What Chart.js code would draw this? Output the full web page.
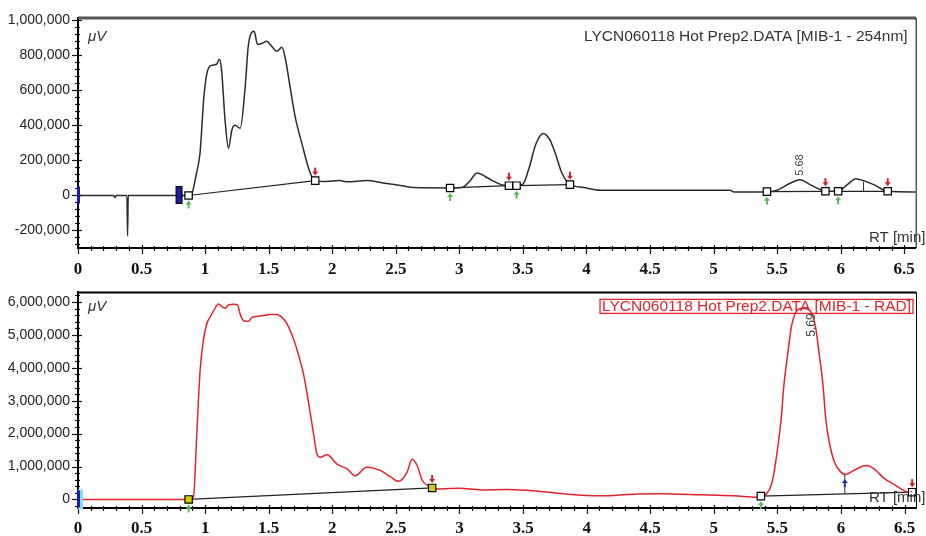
<!DOCTYPE html>
<html><head><meta charset="utf-8">
<script src="https://cdn.jsdelivr.net/npm/chart.js@4.4.1/dist/chart.umd.min.js"></script>
<style>
html,body{margin:0;padding:0;background:#fff;width:926px;height:536px;overflow:hidden}
canvas{position:absolute;left:0}
#c1{top:0}
#c2{top:276px}
</style></head><body>
<canvas id="c1" width="926" height="280"></canvas>
<canvas id="c2" width="926" height="260"></canvas>
<script>
// ---------- data ----------
const xTicksStep = 0.5;
const uvTitle = "LYCN060118 Hot Prep2.DATA [MIB-1 - 254nm]";
const radTitle = "LYCN060118 Hot Prep2.DATA [MIB-1 - RAD]";
const unitLabel = "\u03BCV";
const axisTitle = "RT [min]";
const uvYTicks = [-200000, 0, 200000, 400000, 600000, 800000, 1000000];
const radYTicks = [0, 1000000, 2000000, 3000000, 4000000, 5000000, 6000000];

const uvTime = [0,0.28,0.29,0.30,0.385,0.39,0.395,0.87,0.895,0.93,0.96,0.99,1.013,1.04,1.09,1.113,1.13,1.157,1.184,1.21,1.236,1.276,1.315,1.341,1.386,1.412,1.45,1.486,1.512,1.565,1.604,1.63,1.669,1.709,1.761,1.827,1.866,1.95,2.06,2.12,2.27,2.40,2.55,2.64,2.93,3.02,3.08,3.14,3.20,3.26,3.33,3.39,3.45,3.50,3.55,3.60,3.66,3.71,3.76,3.80,3.85,3.87,3.98,4.11,5.13,5.16,5.42,5.50,5.61,5.68,5.76,5.84,5.88,5.98,6.05,6.12,6.19,6.26,6.37,6.59];
const uvSignal = [0,0,-12000,0,0,-230000,0,0,10000,120000,243000,560000,693000,740000,750000,778000,712000,430000,270000,373000,401000,384000,617000,863000,938000,863000,870000,881000,863000,825000,847000,787000,617000,448000,298000,128000,85000,80000,85000,78000,86000,72000,55000,45000,43000,45000,80000,128000,110000,85000,62000,56000,56000,65000,160000,290000,354000,320000,230000,140000,75000,62000,45000,30000,30000,20000,22000,30000,73000,90000,62000,34000,24000,24000,60000,96000,82000,62000,24000,20000];

const uvStartT = [0.87,2.927,3.45,5.42,5.98];
const uvStartY = [0,43000,56000,22000,24000];
const uvEndT = [1.866,3.39,3.87,5.88,6.37];
const uvEndY = [85000,56000,62000,24000,24000];
const uvEventT = [0,0.795];
const uvPeakT = 5.68, uvPeakY = 90000, uvPeakLabel = "5.68";
const uvDropT = 6.18, uvDropLow = 24000, uvDropHigh = 80000;

const radTime = [0,0.87,0.908,0.934,0.96,0.987,1.013,1.04,1.065,1.105,1.131,1.157,1.184,1.223,1.254,1.276,1.302,1.341,1.368,1.433,1.512,1.565,1.604,1.643,1.696,1.735,1.774,1.813,1.853,1.879,1.906,1.958,2.037,2.116,2.18,2.27,2.378,2.457,2.52,2.588,2.627,2.667,2.706,2.76,2.785,2.85,3.0,3.17,3.38,3.64,3.85,4.11,4.37,4.58,4.9,5.16,5.34,5.41,5.46,5.50,5.53,5.55,5.58,5.61,5.65,5.70,5.76,5.80,5.83,5.86,5.88,5.91,5.95,6.0,6.04,6.10,6.20,6.26,6.34,6.42,6.50,6.55];
const radSignal = [0,0,66000,1980000,3900000,4860000,5340000,5550000,5720000,5940000,5860000,5810000,5910000,5930000,5910000,5620000,5430000,5410000,5530000,5570000,5620000,5620000,5530000,5340000,4860000,4380000,3800000,2940000,1980000,1380000,1280000,1360000,1070000,930000,720000,980000,880000,690000,550000,830000,1220000,1030000,590000,400000,350000,320000,340000,290000,300000,240000,160000,110000,160000,170000,140000,110000,70000,160000,550000,1500000,2460000,3420000,4380000,5240000,5720000,5810000,5720000,5240000,4380000,3420000,2460000,1700000,1120000,830000,760000,880000,1030000,930000,640000,450000,260000,190000];

const radStartT = [0.87,5.37];
const radStartY = [0,100000];
const radEndT = [2.785,6.56];
const radEndY = [350000,220000];
const radEventT = [0];
const radPeakT = 5.69, radPeakLabel = "5.69";
const radDropT = 6.03, radDropLow = 170000, radDropHigh = 740000;

// ---------- helpers ----------
function pts(xs, ys){ return xs.map((x,i)=>({x:x, y:ys[i]})); }
function segs(sx, sy, ex, ey){
  const o2 = [];
  sx.forEach((x,i)=>{ o2.push({x:x,y:sy[i]}); o2.push({x:ex[i],y:ey[i]}); o2.push({x:ex[i]+0.001,y:null}); });
  return o2;
}
function downArrow(ctx, x, tipY, color){
  ctx.fillStyle = color;
  ctx.fillRect(x-1, tipY-8, 2, 5);
  ctx.beginPath(); ctx.moveTo(x-3, tipY-4); ctx.lineTo(x+3, tipY-4); ctx.lineTo(x, tipY); ctx.closePath(); ctx.fill();
}
function upArrow(ctx, x, tipY, color){
  ctx.fillStyle = color;
  ctx.beginPath(); ctx.moveTo(x-3, tipY+4); ctx.lineTo(x+3, tipY+4); ctx.lineTo(x, tipY); ctx.closePath(); ctx.fill();
  ctx.fillRect(x-1, tipY+3, 2, 5);
}

const decor = {
  id: 'decor',
  afterDraw(chart, args, o){
    const ctx = chart.ctx, a = chart.chartArea, xs = chart.scales.x, ys = chart.scales.y;
    ctx.save();
    // frame
    ctx.strokeStyle = o.topColor; ctx.lineWidth = o.topWidth;
    ctx.beginPath(); ctx.moveTo(a.left, a.top); ctx.lineTo(a.right+0.5, a.top); ctx.stroke();
    ctx.strokeStyle = '#000'; ctx.lineWidth = 1;
    ctx.beginPath(); ctx.moveTo(a.right+0.5, a.top); ctx.lineTo(a.right+0.5, a.bottom); ctx.stroke();
    // minor & major ticks
    ctx.strokeStyle = '#111'; ctx.lineWidth = 1.2;
    for (let i = 0; i*0.1 <= xs.max + 1e-9; i++){
      const v = i*0.1, px = Math.round(xs.getPixelForValue(v))+0.5;
      const major = (i % 5 === 0);
      ctx.beginPath(); ctx.moveTo(px, a.bottom - (major?3:2)); ctx.lineTo(px, a.bottom + (major?6:3)); ctx.stroke();
    }
    for (let i = Math.ceil(ys.min/o.yMinor); i*o.yMinor <= ys.max; i++){
      const v = i*o.yMinor, py = Math.round(ys.getPixelForValue(v))+0.5;
      const major = (Math.abs(v % o.yMajor) < 1);
      ctx.beginPath(); ctx.moveTo(a.left - (major?6:3), py); ctx.lineTo(a.left + (major?4:2), py); ctx.stroke();
    }
    // arrows on baseline markers
    const sMeta = chart.getDatasetMeta(o.startIdx), eMeta = chart.getDatasetMeta(o.endIdx);
    sMeta.data.forEach(p=>upArrow(ctx, p.x, p.y+5, '#5cb85c'));
    eMeta.data.forEach(p=>downArrow(ctx, p.x, p.y-5, '#d0202a'));
    // event bars
    o.events.forEach((t,i)=>{
      const px = xs.getPixelForValue(t), py = ys.getPixelForValue(0);
      if (i === 0 && o.cyan){ ctx.fillStyle = '#7fe0f0'; ctx.fillRect(px, py-10, 5, 20); }
      ctx.fillStyle = '#1c1ca8';
      const w = i===0 ? 3 : 6;
      ctx.fillRect(px - (i===0?1:w/2), py-9, w, 17);
      if (i>0){ ctx.strokeStyle='#000'; ctx.lineWidth=1; ctx.strokeRect(px-w/2, py-9, w, 17); }
    });
    // drop line
    const dx = xs.getPixelForValue(o.drop[0]);
    ctx.strokeStyle = '#333'; ctx.lineWidth = 1;
    ctx.beginPath(); ctx.moveTo(dx, ys.getPixelForValue(o.drop[1])); ctx.lineTo(dx, ys.getPixelForValue(o.drop[2])); ctx.stroke();
    if (o.dropArrow){ upArrow(ctx, dx, ys.getPixelForValue(o.drop[2])+4, '#2030b0'); }
    // texts
    ctx.font = '15.5px "Liberation Sans", Arial, sans-serif';
    ctx.textBaseline = 'middle';
    if (o.titleBox){
      const w = ctx.measureText(o.title).width;
      ctx.fillStyle = o.titleColor; ctx.textAlign = 'left';
      ctx.fillText(o.title, a.right - 5 - w, a.top + o.titleDy);
      ctx.strokeStyle = o.titleColor; ctx.lineWidth = 1.3;
      ctx.strokeRect(a.right - 7 - w, a.top + o.titleDy - 7, w + 4, 14);
    } else {
      ctx.fillStyle = o.titleColor; ctx.textAlign = 'right';
      ctx.fillText(o.title, a.right - 8, a.top + o.titleDy);
    }
    ctx.font = '15px "Liberation Sans", Arial, sans-serif';
    ctx.fillStyle = '#333'; ctx.textAlign = 'left';
    ctx.fillText(axisTitle, 869, a.bottom - 10);
    ctx.font = 'italic 15px "Liberation Sans", Arial, sans-serif';
    ctx.fillText(unitLabel, a.left + 10, a.top + o.titleDy);
    // peak label
    ctx.font = o.peakFont + 'px "Liberation Sans", Arial, sans-serif';
    ctx.fillStyle = '#444';
    const lx = xs.getPixelForValue(o.peak[0]) + o.peakDx;
    ctx.translate(lx, o.peakTop ? a.top + o.peakTop : ys.getPixelForValue(o.peak[1]) - 4);
    ctx.rotate(-Math.PI/2);
    ctx.textAlign = o.peakTop ? 'right' : 'left';
    ctx.fillText(o.peak[2], 0, 0);
    ctx.restore();
  }
};

function makeChart(id, cfg){
  return new Chart(document.getElementById(id), {
    type: 'line',
    data: { datasets: [
      { type:'scatter', data: pts(cfg.startT, cfg.startY), pointStyle:'rect', pointRadius:5.2, pointBackgroundColor: cfg.startFill, pointBorderColor:'#000', pointBorderWidth:1.2, order:0 },
      { type:'scatter', data: pts(cfg.endT, cfg.endY), pointStyle:'rect', pointRadius:5.2, pointBackgroundColor: cfg.endFill, pointBorderColor:'#000', pointBorderWidth:1.2, order:0 },
      { data: cfg.trace, borderColor: cfg.color, borderWidth: 1.5, pointRadius:0, cubicInterpolationMode:'monotone', order:1 },
      { data: segs(cfg.startT, cfg.startY, cfg.endT, cfg.endY), borderColor:'#222', borderWidth:1.2, pointRadius:0, spanGaps:false, order:2 }
    ]},
    options: {
      responsive:false, animation:false,
      layout:{ padding:{ top: cfg.padTop, right:10, left:0, bottom:0 } },
      plugins:{ legend:{display:false}, tooltip:{enabled:false}, decor: cfg.decor },
      scales:{
        x:{ type:'linear', min:0, max:6.59,
            afterFit(s){ s.height = cfg.xH; },
            grid:{ display:true, drawOnChartArea:false, drawTicks:false },
            border:{ display:true, color:'#000', width:2 },
            ticks:{ stepSize:xTicksStep, includeBounds:false, padding: cfg.xPad, color:'#111', maxRotation:0, autoSkip:false,
                    font:{ family:'"Liberation Serif", "Times New Roman", serif', size:17, weight:'bold' },
                    callback:(v)=>String(+Number(v).toFixed(1)) } },
        y:{ type:'linear', min: cfg.yMin, max: cfg.yMax,
            afterFit(s){ s.width = 78; },
            afterBuildTicks(s){ s.ticks = cfg.yTicks.map(v=>({value:v})); },
            grid:{ display:true, drawOnChartArea:false, drawTicks:false },
            border:{ display:true, color:'#000', width:2 },
            ticks:{ padding:8, color:'#222', autoSkip:false,
                    font:{ family:'"Liberation Sans", Arial, sans-serif', size:14 },
                    callback:(v)=>Number(v).toLocaleString('en-US') } }
      }
    },
    plugins:[decor]
  });
}

makeChart('c1', {
  trace: pts(uvTime, uvSignal), color:'#2b2b2b',
  startT: uvStartT, startY: uvStartY, endT: uvEndT, endY: uvEndY,
  startFill:'#fff', endFill:'#fff', yTicks: uvYTicks,
  padTop:18, xH:32, xPad:11, yMin:-300000, yMax:1014000,
  decor:{ startIdx:0, endIdx:1, topColor:'#555', topWidth:3, yMinor:40000, yMajor:200000,
          events: uvEventT, cyan:false, drop:[uvDropT, uvDropLow, uvDropHigh], dropArrow:false,
          title: uvTitle, titleColor:'#333', titleBox:false, titleDy:19,
          peak:[uvPeakT, uvPeakY, uvPeakLabel], peakDx:0, peakFont:11, peakTop:0 }
});

makeChart('c2', {
  trace: pts(radTime, radSignal), color:'#e3232b',
  startT: radStartT, startY: radStartY, endT: radEndT, endY: radEndY,
  startFill:['#d6d200','#fff'], endFill:['#d6d200','#fff'], yTicks: radYTicks,
  padTop:6, xH:28, xPad:10, yMin:-260000, yMax:6290000,
  decor:{ startIdx:0, endIdx:1, topColor:'#000', topWidth:2, yMinor:200000, yMajor:1000000,
          events: radEventT, cyan:true, drop:[radDropT, radDropLow, radDropHigh], dropArrow:true,
          title: radTitle, titleColor:'#e3232b', titleBox:true, titleDy:14,
          peak:[radPeakT, 0, radPeakLabel], peakDx:10, peakFont:12, peakTop:21 }
});
</script>
</body></html>
